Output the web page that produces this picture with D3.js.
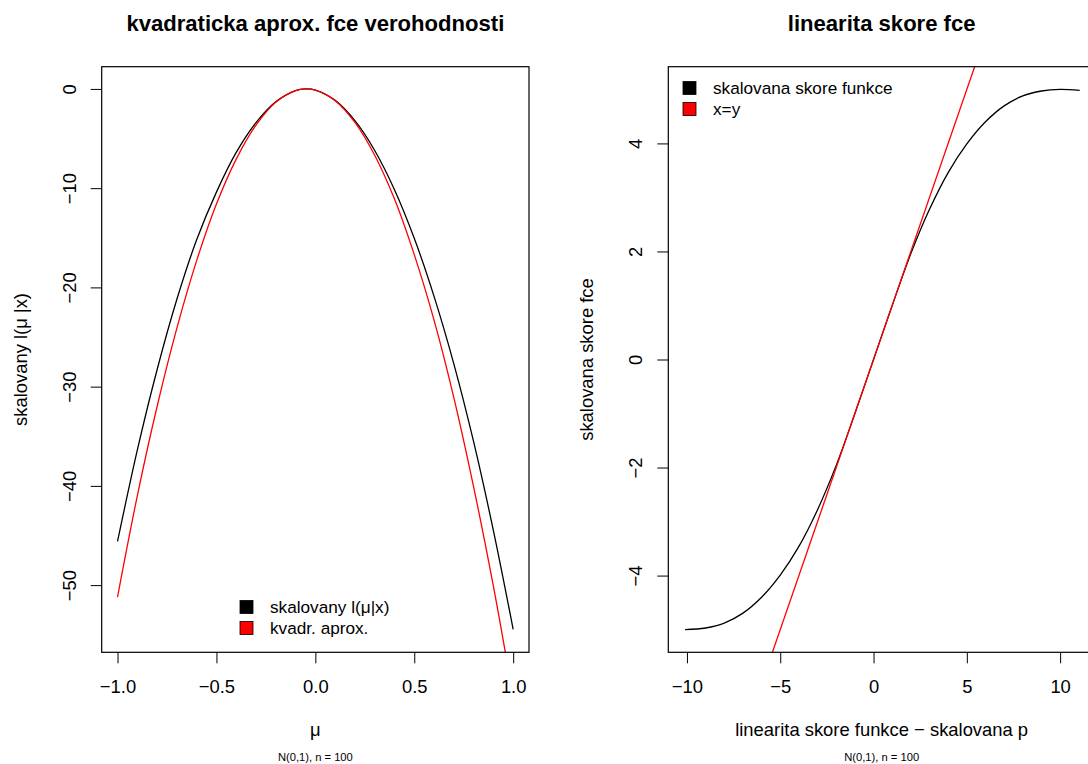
<!DOCTYPE html>
<html>
<head>
<meta charset="utf-8">
<script src="https://cdn.jsdelivr.net/npm/d3@7"></script>
<style>
  body { margin: 0; background: #fff; }
  svg text { font-family: "Liberation Sans", Arial, Helvetica, sans-serif; }
</style>
</head>
<body>
<svg id="chart" width="1088" height="764"></svg>
<script>
// left panel: scaled log-likelihood and its quadratic approximation
const muVals     = [-1.0, -0.9, -0.8, -0.7, -0.6, -0.5, -0.4, -0.3, -0.2, -0.1, -0.05, 0.0, 0.1, 0.2, 0.3, 0.4, 0.5, 0.6, 0.7, 0.8, 0.9, 1.0];
const loglikVals = [-45.6, -36.4, -28.3, -21.2, -15.2, -10.4, -6.4, -3.4, -1.3, -0.17, 0.0, -0.11, -1.15, -3.2, -6.2, -10.15, -15.05, -20.9, -27.7, -35.55, -44.5, -54.45];
const quadVals   = [-51.2, -41.0, -32.0, -24.1, -17.3, -11.6, -7.07, -3.65, -1.35, -0.17, 0.0, -0.11, -1.18, -3.37, -6.68, -11.1, -16.7, -23.3, -31.1, -40.1, -50.1, -61.3];

// right panel: scaled score function vs x=y
const scoreX = [-10.1, -9, -8, -7, -6, -5, -4, -3, -2, -1, 0, 1, 2, 3, 4, 5, 6, 7, 8, 9, 10, 11.05];
const scoreY = [-5.0, -4.97, -4.88, -4.695, -4.40, -3.99, -3.46, -2.78, -1.96, -1.0, 0, 1.0, 1.96, 2.78, 3.46, 3.99, 4.40, 4.695, 4.88, 4.97, 5.0, 4.98];
const identityX = [-12, 12];
const identityY = [-12, 12];

const leftXTicks = [-1, -0.5, 0, 0.5, 1];
const leftYTicks = [0, -10, -20, -30, -40, -50];
const rightXTicks = [-10, -5, 0, 5, 10];
const rightYTicks = [-4, -2, 0, 2, 4];

const baseFont = 18.4;

let chart = d3.select("#chart");

function drawPanel(opt) {
    let g = chart.append("g");
    let x = d3.scaleLinear().domain(opt.xDomain).range([opt.left, opt.right]);
    let y = d3.scaleLinear().domain(opt.yDomain).range([opt.bottom, opt.top]);
    let clipId = "clip-" + opt.id;

    chart.append("clipPath").attr("id", clipId)
        .append("rect")
        .attr("x", opt.left).attr("y", opt.top)
        .attr("width", opt.right - opt.left).attr("height", opt.bottom - opt.top);

    // curves
    let plot = g.append("g").attr("clip-path", "url(#" + clipId + ")");
    opt.series.forEach(function(s) {
        let line = d3.line()
            .x(function(d, i) { return x(s.xs[i]); })
            .y(function(d) { return y(d); })
            .curve(s.curve || d3.curveCatmullRom.alpha(0.5));
        plot.append("path")
            .datum(s.ys)
            .attr("fill", "none")
            .attr("stroke", s.color)
            .attr("stroke-width", 1.3)
            .attr("d", line);
    });

    // box
    g.append("rect")
        .attr("x", opt.left).attr("y", opt.top)
        .attr("width", opt.right - opt.left).attr("height", opt.bottom - opt.top)
        .attr("fill", "none").attr("stroke", "#000").attr("stroke-width", 1.2);

    // axes (R style: ticks outside, no extra domain line)
    let xa = g.append("g")
        .attr("transform", "translate(0," + opt.bottom + ")")
        .call(d3.axisBottom(x).tickValues(opt.xTicks).tickFormat(opt.xFormat).tickSize(11).tickSizeOuter(0).tickPadding(16.5));
    xa.select(".domain").remove();
    xa.selectAll("text").attr("font-size", baseFont).attr("fill", "#000");
    xa.selectAll("line").attr("stroke", "#000");

    let ya = g.append("g")
        .attr("transform", "translate(" + opt.left + ",0)")
        .call(d3.axisLeft(y).tickValues(opt.yTicks).tickFormat(d3.format("d")).tickSize(11).tickSizeOuter(0));
    ya.select(".domain").remove();
    ya.selectAll("line").attr("stroke", "#000");
    ya.selectAll("text")
        .attr("font-size", baseFont).attr("fill", "#000")
        .attr("x", null).attr("y", 0).attr("dy", null)
        .attr("text-anchor", "middle")
        .attr("transform", "translate(-26,0) rotate(-90)");

    let cx = (opt.left + opt.right) / 2, cy = (opt.top + opt.bottom) / 2;
    g.append("text")
        .attr("x", cx).attr("y", 31)
        .attr("text-anchor", "middle")
        .attr("font-size", baseFont * 1.2).attr("font-weight", "bold")
        .text(opt.title);
    g.append("text")
        .attr("x", cx).attr("y", opt.xLabelY)
        .attr("text-anchor", "middle")
        .attr("font-size", baseFont)
        .text(opt.xLabel);
    g.append("text")
        .attr("x", cx).attr("y", 761)
        .attr("text-anchor", "middle")
        .attr("font-size", 11.2)
        .text("N(0,1), n = 100");
    g.append("text")
        .attr("transform", "translate(" + (opt.left - 75) + "," + cy + ") rotate(-90)")
        .attr("text-anchor", "middle")
        .attr("font-size", baseFont)
        .text(opt.yLabel);

    // legend
    let lg = g.append("g");
    opt.legend.forEach(function(item, i) {
        let ly = opt.legendY + i * 21;
        lg.append("rect")
            .attr("x", opt.legendX).attr("y", ly - 6.5)
            .attr("width", 13).attr("height", 13)
            .attr("fill", item.color).attr("stroke", "#000").attr("stroke-width", 0.8);
        lg.append("text")
            .attr("x", opt.legendX + 30).attr("y", ly + 6)
            .attr("font-size", 17.2)
            .text(item.label);
    });
}

drawPanel({
    id: "left",
    left: 101.7, right: 529, top: 66.7, bottom: 652.3,
    xDomain: [-1.08, 1.08], yDomain: [-56.77, 2.24],
    xTicks: leftXTicks, yTicks: leftYTicks, xFormat: d3.format(".1f"),
    title: "kvadraticka aprox. fce verohodnosti",
    xLabel: "\u03bc", xLabelY: 736,
    yLabel: "skalovany l(\u03bc |x)",
    series: [
        { xs: muVals, ys: loglikVals, color: "#000" },
        { xs: muVals, ys: quadVals, color: "#ff0000" }
    ],
    legendX: 240, legendY: 607,
    legend: [
        { label: "skalovany l(\u03bc|x)", color: "#000" },
        { label: "kvadr. aprox.", color: "#ff0000" }
    ]
});

drawPanel({
    id: "right",
    left: 668.3, right: 1095, top: 66.7, bottom: 652.3,
    xDomain: [-11.0, 11.87], yDomain: [-5.42, 5.42],
    xTicks: rightXTicks, yTicks: rightYTicks, xFormat: d3.format("d"),
    title: "linearita skore fce",
    xLabel: "linearita skore funkce \u2212 skalovana p", xLabelY: 736,
    yLabel: "skalovana skore fce",
    series: [
        { xs: scoreX, ys: scoreY, color: "#000" },
        { xs: identityX, ys: identityY, color: "#ff0000", curve: d3.curveLinear }
    ],
    legendX: 683, legendY: 88,
    legend: [
        { label: "skalovana skore funkce", color: "#000" },
        { label: "x=y", color: "#ff0000" }
    ]
});
</script>
</body>
</html>
